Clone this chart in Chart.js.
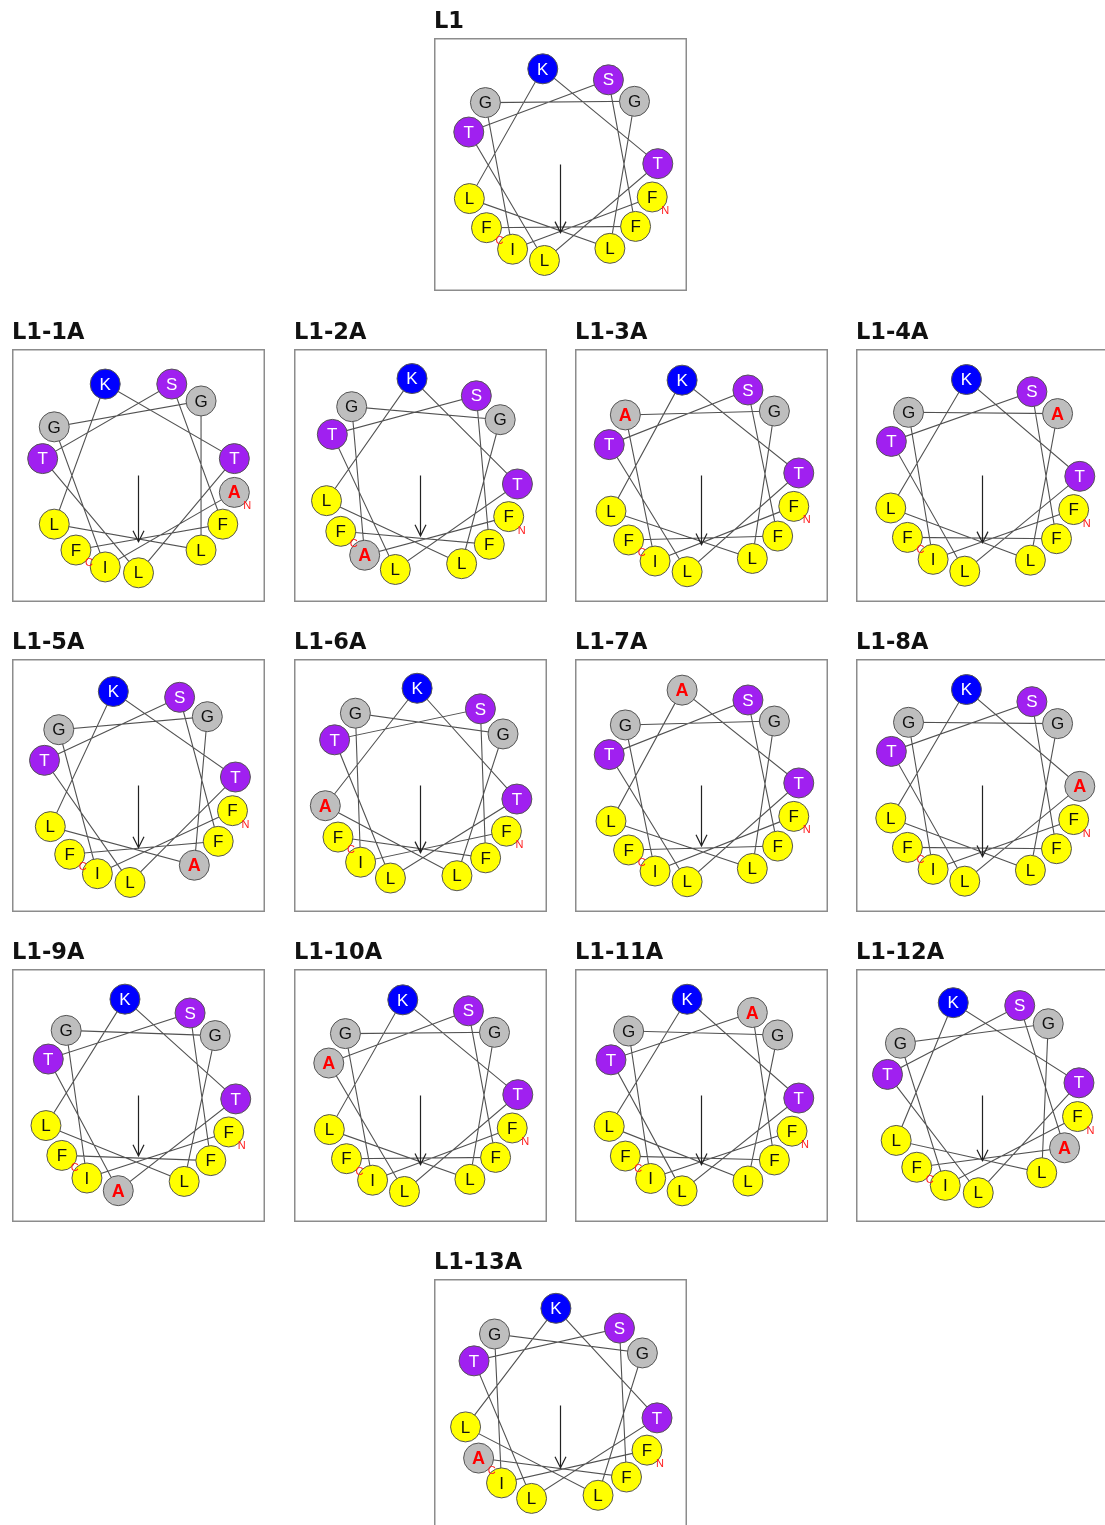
<!DOCTYPE html>
<html>
<head>
<meta charset="utf-8">
<script src="https://cdn.jsdelivr.net/npm/chart.js@4.4.1/dist/chart.umd.min.js"></script>
<style>
  html, body { margin: 0; padding: 0; background: #ffffff; overflow: hidden; width: 1105px; height: 1525px; }
  #sheet { position: relative; width: 1105px; height: 1525px; overflow: hidden; }
  .panel { position: absolute; }
</style>
</head>
<body>
<div id="sheet"></div>
<script>
// Parent peptide L1, N- to C-terminus
const parentSequence = ['F', 'I', 'G', 'G', 'L', 'L', 'K', 'T', 'L', 'T', 'S', 'F', 'F'];

// One wheel per peptide: the parent and the alanine scan
const panelNames = ['L1', 'L1-1A', 'L1-2A', 'L1-3A', 'L1-4A', 'L1-5A', 'L1-6A',
                    'L1-7A', 'L1-8A', 'L1-9A', 'L1-10A', 'L1-11A', 'L1-12A', 'L1-13A'];

// Sequence position (1-based) replaced by alanine; 0 for the parent
const alaninePosition = [0, 1, 2, 3, 4, 5, 6, 7, 8, 9, 10, 11, 12, 13];

// Angle of residue 1 on each wheel, degrees clockwise from 12 o'clock
const wheelRotation = [109.5, 100, 115, 108.5, 110.5, 105, 118, 108.5, 110.5, 112, 109.5, 111.5, 102.5, 117.3];

// Hydrophobic moment vector length (wheel radius = 1)
const momentLength = [0.70, 0.68, 0.62, 0.71, 0.69, 0.64, 0.69, 0.62, 0.73, 0.62, 0.71, 0.71, 0.67, 0.64];

// Residue colour classes
const residueFill = { K: '#0000ff', S: '#a020f0', T: '#a020f0', G: '#bebebe', A: '#bebebe',
                      L: '#ffff00', I: '#ffff00', F: '#ffff00' };
const residueText = { K: '#ffffff', S: '#ffffff', T: '#ffffff', G: '#111111', A: '#ff0000',
                      L: '#111111', I: '#111111', F: '#111111' };

const STEP = 100;          // degrees per residue in an alpha helix
const BOX = 253;           // plot box size, px
const TITLE_SPACE = 40;    // room above the box for the panel name

// Panel grid: box top-left corners
const rowTop = [38, 349, 659, 969, 1279];
const colLeft = [12, 294, 575, 856];
const centreLeft = 434;
function panelPosition(idx) {
  if (idx === 0) return { left: centreLeft, top: rowTop[0] };
  if (idx === 13) return { left: centreLeft, top: rowTop[4] };
  const k = idx - 1;
  return { left: colLeft[k % 4], top: rowTop[1 + Math.floor(k / 4)] };
}

function sequenceFor(idx) {
  return parentSequence.map((aa, i) => (i + 1 === alaninePosition[idx] ? 'A' : aa));
}

function wheelPoints(idx) {
  return parentSequence.map((_, i) => {
    const a = (wheelRotation[idx] + STEP * i) * Math.PI / 180;
    return { x: Math.sin(a), y: Math.cos(a) };
  });
}

// Frame, panel name, residue letters, termini and moment arrowhead
const wheelDecor = {
  id: 'wheelDecor',
  afterDatasetsDraw(chart, args, opts) {
    const { ctx, chartArea } = chart;
    const seq = opts.sequence;
    const mutated = opts.mutated;
    ctx.save();

    // residue letters
    const meta = chart.getDatasetMeta(1);
    ctx.textAlign = 'center';
    ctx.textBaseline = 'middle';
    meta.data.forEach((pt, i) => {
      const aa = seq[i];
      if (i + 1 === mutated) {
        ctx.font = "bold 18px 'Liberation Sans', Arial, sans-serif";
        ctx.fillStyle = '#ff0000';
      } else {
        ctx.font = "17px 'Liberation Sans', Arial, sans-serif";
        ctx.fillStyle = residueText[aa];
      }
      ctx.fillText(aa, pt.x, pt.y + 1);
    });

    // N- and C-terminus markers
    ctx.font = "11px 'Liberation Sans', Arial, sans-serif";
    ctx.fillStyle = '#ff2020';
    const first = meta.data[0];
    const last = meta.data[meta.data.length - 1];
    ctx.fillText('N', first.x + 13, first.y + 14);
    ctx.fillText('C', last.x + 13, last.y + 13);

    // arrowhead on the moment vector
    const arrow = chart.getDatasetMeta(2).data;
    const tip = arrow[arrow.length - 1];
    ctx.strokeStyle = '#222222';
    ctx.lineWidth = 1.2;
    ctx.beginPath();
    ctx.moveTo(tip.x - 5.5, tip.y - 11);
    ctx.lineTo(tip.x, tip.y);
    ctx.lineTo(tip.x + 5.5, tip.y - 11);
    ctx.stroke();

    // box
    ctx.strokeStyle = '#8c8c8c';
    ctx.lineWidth = 1.5;
    ctx.strokeRect(chartArea.left + 0.75, chartArea.top + 0.75,
                   chartArea.right - chartArea.left - 1.5, chartArea.bottom - chartArea.top - 1.5);

    // panel name
    ctx.font = "bold 22.5px 'DejaVu Sans', sans-serif";
    ctx.fillStyle = '#111111';
    ctx.textAlign = 'left';
    ctx.textBaseline = 'alphabetic';
    ctx.fillText(opts.name, chartArea.left, chartArea.top - 10);
    ctx.restore();
  }
};

const sheet = document.getElementById('sheet');

panelNames.forEach((name, idx) => {
  const pos = panelPosition(idx);
  const canvas = document.createElement('canvas');
  canvas.className = 'panel';
  canvas.width = BOX;
  canvas.height = BOX + TITLE_SPACE;
  canvas.style.left = pos.left + 'px';
  canvas.style.top = (pos.top - TITLE_SPACE) + 'px';
  sheet.appendChild(canvas);

  const seq = sequenceFor(idx);
  const pts = wheelPoints(idx);

  new Chart(canvas, {
    type: 'scatter',
    data: {
      datasets: [
        { // backbone connecting consecutive residues
          data: pts,
          showLine: true,
          borderColor: 'rgba(50,50,50,0.85)',
          borderWidth: 1.1,
          pointRadius: 0,
          order: 3
        },
        { // residues
          data: pts,
          showLine: false,
          pointRadius: 15,
          pointHoverRadius: 15,
          backgroundColor: seq.map(aa => residueFill[aa]),
          borderColor: '#555555',
          borderWidth: 1,
          order: 1
        },
        { // hydrophobic moment
          data: [{ x: 0, y: 0 }, { x: 0, y: -momentLength[idx] }],
          showLine: true,
          borderColor: '#222222',
          borderWidth: 1.2,
          pointRadius: 0,
          order: 2
        }
      ]
    },
    options: {
      responsive: false,
      animation: false,
      events: [],
      layout: { autoPadding: false, padding: { top: TITLE_SPACE, left: 0, right: 0, bottom: 0 } },
      scales: {
        x: { type: 'linear', min: -1.3, max: 1.3, display: false },
        y: { type: 'linear', min: -1.3, max: 1.3, display: false }
      },
      plugins: {
        legend: { display: false },
        tooltip: { enabled: false },
        title: { display: false },
        wheelDecor: { name: name, sequence: seq, mutated: alaninePosition[idx] }
      }
    },
    plugins: [wheelDecor]
  });
});
</script>
</body>
</html>
